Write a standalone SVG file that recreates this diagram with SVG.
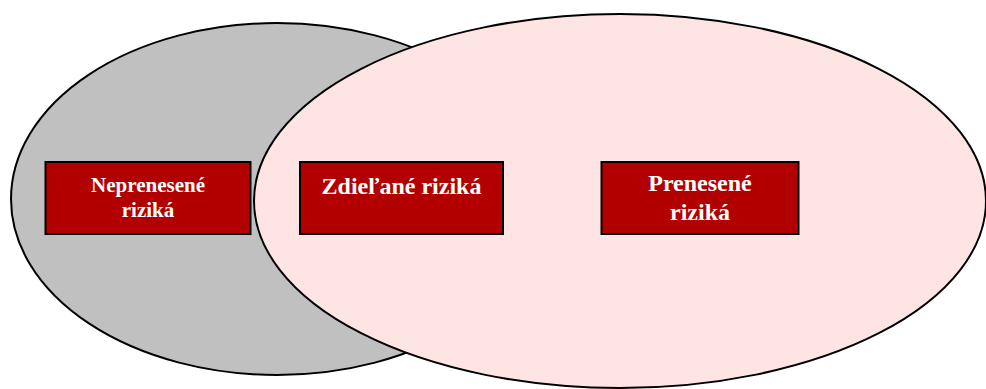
<svg xmlns="http://www.w3.org/2000/svg" width="986" height="389" viewBox="0 0 986 389">
  <style>
    .set { stroke: #000; stroke-width: 2; }
    .box rect { fill: #B20000; stroke: #000; stroke-width: 2; }
    .box text { fill: #fff; font-family: "Liberation Serif", "Times New Roman", serif; font-weight: bold; text-anchor: middle; }
  </style>
  <rect width="986" height="389" fill="#fff"/>
  <!-- risk sets -->
  <g id="set-retained">
    <ellipse class="set" cx="277" cy="199" rx="266" ry="176" fill="#C0C0C0"/>
  </g>
  <g id="set-transferred">
    <ellipse class="set" cx="620" cy="201" rx="366" ry="187" fill="#FFE4E4"/>
  </g>
  <g id="connectors"></g>
  <!-- labels -->
  <g id="node-nepreneseme" class="box">
    <rect x="45.5" y="162" width="205" height="72"/>
    <text x="148" y="191.5" font-size="21">Neprenesené</text>
    <text x="148" y="216.5" font-size="21">riziká</text>
  </g>
  <g id="node-zdielane" class="box">
    <rect x="300" y="162" width="203" height="72"/>
    <text x="401.5" y="194" font-size="24">Zdieľané riziká</text>
  </g>
  <g id="node-prenesene" class="box">
    <rect x="601.5" y="162" width="197" height="72"/>
    <text x="700" y="191" font-size="24">Prenesené</text>
    <text x="700" y="220" font-size="24">riziká</text>
  </g>
</svg>
